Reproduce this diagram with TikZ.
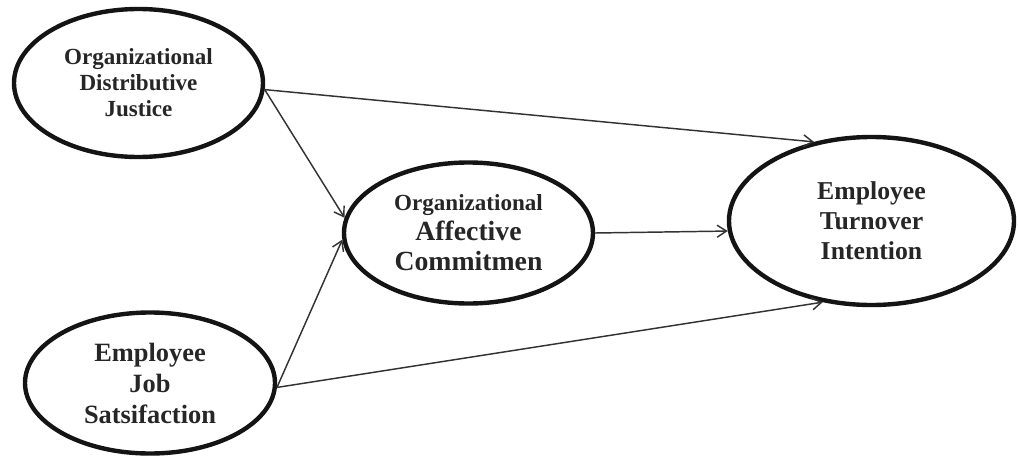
\documentclass[tikz,border=0pt]{standalone}
\usepackage{fontspec}
\setmainfont{Liberation Serif}
\usetikzlibrary{shapes.geometric,arrows.meta}
\begin{document}
\begin{tikzpicture}[x=0.75pt,y=-0.75pt,
  construct/.style={ellipse,draw=black!92,line width=3.3pt,inner sep=0pt,
    align=center,text=black!85,font=\bfseries},
  link/.style={draw=black!80,line width=1.1pt,
    -{Straight Barb[length=7pt,width=9pt,line width=1.1pt]}}]
  \useasboundingbox (0,0) rectangle (1018,457);

  % latent constructs
  \node[construct,minimum width=186.75pt,minimum height=111pt,
        font=\bfseries\fontsize{17.3pt}{19.5pt}\selectfont]
    (odj) at (138.5,83) {Organizational\\Distributive\\Justice};
  \node[construct,minimum width=187.5pt,minimum height=105.75pt,
        font=\bfseries\fontsize{19.8pt}{23.25pt}\selectfont]
    (ejs) at (150,383) {Employee\\Job\\Satsifaction};
  \node[construct,minimum width=186.75pt,minimum height=105.75pt,
        font=\bfseries\fontsize{20.8pt}{22.5pt}\selectfont]
    (oac) at (468.5,233)
    {{\fontsize{17.3pt}{22.5pt}\selectfont Organizational}\\Affective\\Commitmen};
  \node[construct,minimum width=213.75pt,minimum height=126pt,
        font=\bfseries\fontsize{19.3pt}{22.5pt}\selectfont]
    (eti) at (871.5,221) {Employee\\Turnover\\Intention};

  % hypothesised paths
  \draw[link] (odj.-3) -- (eti.126);
  \draw[link] (odj.-3) -- (oac.173);
  \draw[link] (ejs.-2) -- (oac.183);
  \draw[link] (ejs.-2) -- (eti.-121);
  \draw[link] (oac.east) -- (eti.184.5);
\end{tikzpicture}
\end{document}
